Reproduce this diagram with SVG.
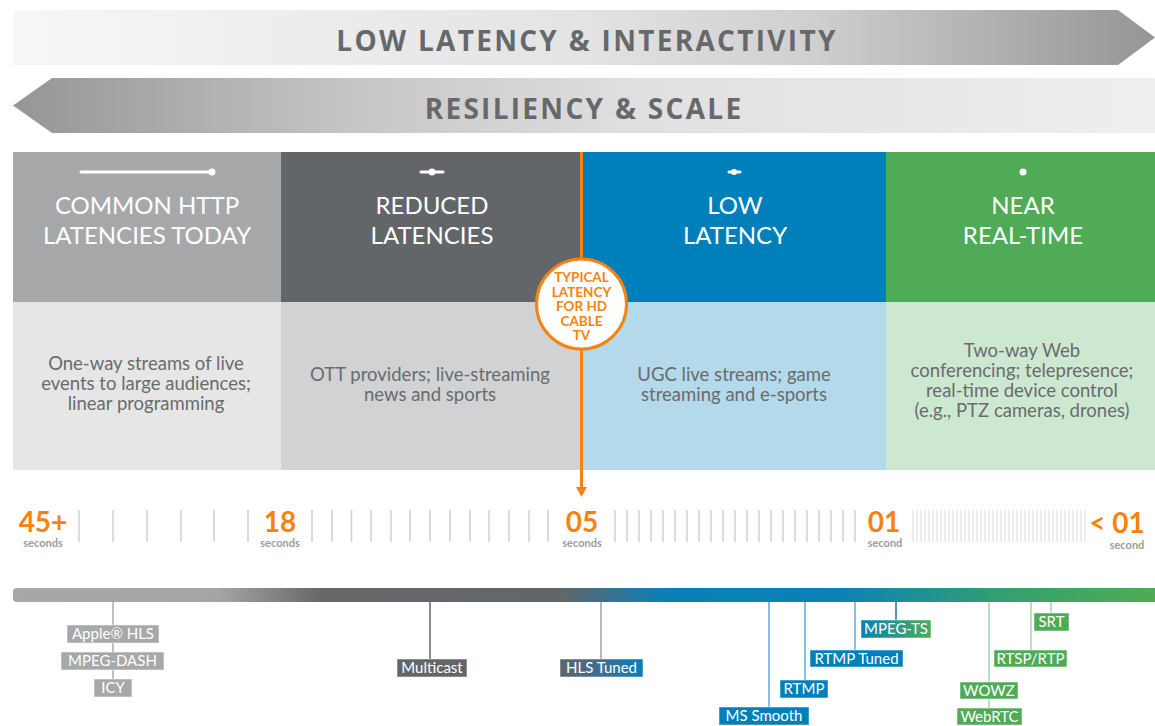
<svg xmlns="http://www.w3.org/2000/svg" width="1155" height="726" viewBox="0 0 1155 726">
<defs>
<linearGradient id="gTop" x1="13" y1="0" x2="1155" y2="0" gradientUnits="userSpaceOnUse">
<stop offset="0" stop-color="#f7f7f7"/><stop offset="0.5" stop-color="#e3e3e3"/><stop offset="0.7" stop-color="#cfcfcf"/><stop offset="1" stop-color="#959595"/>
</linearGradient>
<linearGradient id="gBot" x1="13" y1="0" x2="1155" y2="0" gradientUnits="userSpaceOnUse">
<stop offset="0" stop-color="#959595"/><stop offset="0.3" stop-color="#c6c6c6"/><stop offset="0.55" stop-color="#e0e0e0"/><stop offset="1" stop-color="#efefef"/>
</linearGradient>
<linearGradient id="gBar" x1="13" y1="0" x2="1155" y2="0" gradientUnits="userSpaceOnUse">
<stop offset="0" stop-color="#a7a8aa"/><stop offset="0.18" stop-color="#a4a5a7"/><stop offset="0.27" stop-color="#656769"/><stop offset="0.48" stop-color="#636669"/><stop offset="0.57" stop-color="#0a80b8"/><stop offset="0.72" stop-color="#0a82b6"/><stop offset="0.87" stop-color="#34a070"/><stop offset="1" stop-color="#4fab55"/>
</linearGradient>
<linearGradient id="gHls" x1="0" y1="0" x2="1" y2="0">
<stop offset="0" stop-color="#5e656b"/><stop offset="0.45" stop-color="#3f6f8b"/><stop offset="1" stop-color="#0580bb"/>
</linearGradient>
<linearGradient id="gTs" x1="0" y1="0" x2="1" y2="0">
<stop offset="0" stop-color="#0a80b8"/><stop offset="1" stop-color="#4fab55"/>
</linearGradient>
<style>
.band{font-family:"Open Sans","DejaVu Sans",sans-serif;font-weight:700;font-size:28px;letter-spacing:2.3px;fill:#67686b;text-anchor:middle}
.hd{font-family:Lato,"Open Sans",sans-serif;font-size:24px;fill:#ffffff;text-anchor:middle}
.ds{font-family:Lato,"Open Sans",sans-serif;font-size:18.5px;fill:#6a6b6d;text-anchor:middle}
.cb{font-family:Lato,"Open Sans",sans-serif;font-weight:700;font-size:13.5px;fill:#f7820f;text-anchor:middle}
.num{font-family:Lato,"Open Sans",sans-serif;font-weight:700;font-size:28px;fill:#f7820f;text-anchor:middle}
.unit{font-family:Lato,"Open Sans",sans-serif;font-weight:700;font-size:11px;fill:#9c9c9c;text-anchor:middle}
.tag{font-family:Lato,"Open Sans",sans-serif;font-size:15px;fill:#ffffff;text-anchor:middle}
.box{stroke:#ffffff;stroke-opacity:0.5;stroke-width:1}
.icon{stroke:#ffffff;stroke-width:3;stroke-linecap:round;fill:none}
</style>
</defs>
<rect width="1155" height="726" fill="#ffffff"/>

<g id="band-latency">
<polygon points="13,10 1118,10 1155,37.5 1118,65 13,65" fill="url(#gTop)"/>
<text class="band" x="587" y="51">LOW LATENCY &amp; INTERACTIVITY</text>
</g>
<g id="band-resiliency">
<polygon points="52,78 1155,78 1155,133 52,133 13,105.5" fill="url(#gBot)"/>
<text class="band" x="584" y="119">RESILIENCY &amp; SCALE</text>
</g>

<g id="col-common-http">
<rect x="13" y="152" width="268" height="150" fill="#a7a8aa"/>
<rect x="13" y="302" width="268" height="168" fill="#e6e6e7"/>
<line class="icon" x1="81" y1="172" x2="211" y2="172"/>
<circle cx="212" cy="172" r="3.5" fill="#ffffff"/>
<text class="hd" x="147" y="214">COMMON HTTP</text>
<text class="hd" x="147" y="244">LATENCIES TODAY</text>
<text class="ds" x="146" y="370">One-way streams of live</text>
<text class="ds" x="146" y="390">events to large audiences;</text>
<text class="ds" x="146" y="410">linear programming</text>
</g>
<g id="col-reduced">
<rect x="281" y="152" width="301" height="150" fill="#636669"/>
<rect x="281" y="302" width="301" height="168" fill="#d1d2d4"/>
<line class="icon" x1="421" y1="172" x2="443" y2="172"/>
<circle cx="432" cy="172" r="3.5" fill="#ffffff"/>
<text class="hd" x="432" y="214">REDUCED</text>
<text class="hd" x="432" y="244">LATENCIES</text>
<text class="ds" x="430" y="381">OTT providers; live-streaming</text>
<text class="ds" x="430" y="401">news and sports</text>
</g>
<g id="col-low">
<rect x="582" y="152" width="304" height="150" fill="#0080bb"/>
<rect x="582" y="302" width="304" height="168" fill="#b3d9eb"/>
<line class="icon" x1="729" y1="172" x2="740" y2="172"/>
<circle cx="734" cy="172" r="3" fill="#ffffff"/>
<text class="hd" x="735" y="214">LOW</text>
<text class="hd" x="735" y="244">LATENCY</text>
<text class="ds" x="734" y="381">UGC live streams; game</text>
<text class="ds" x="734" y="401">streaming and e-sports</text>
</g>
<g id="col-near-real-time">
<rect x="886" y="152" width="269" height="150" fill="#4fab55"/>
<rect x="886" y="302" width="269" height="168" fill="#cde8d0"/>
<circle cx="1023" cy="172" r="3.5" fill="#ffffff"/>
<text class="hd" x="1023" y="214">NEAR</text>
<text class="hd" x="1023" y="244">REAL-TIME</text>
<text class="ds" x="1022" y="357">Two-way Web</text>
<text class="ds" x="1022" y="377">conferencing; telepresence;</text>
<text class="ds" x="1022" y="397">real-time device control</text>
<text class="ds" x="1022" y="417">(e.g., PTZ cameras, drones)</text>
</g>

<g id="cable-tv-marker">
<line x1="581.5" y1="152" x2="581.5" y2="489" stroke="#f7820f" stroke-width="3"/>
<polygon points="576,487 587,487 581.5,497" fill="#f7820f"/>
<circle cx="581.5" cy="304" r="45" fill="#ffffff" stroke="#f7820f" stroke-width="3"/>
<text class="cb" x="581.5" y="282">TYPICAL</text>
<text class="cb" x="581.5" y="297">LATENCY</text>
<text class="cb" x="581.5" y="311">FOR HD</text>
<text class="cb" x="581.5" y="326">CABLE</text>
<text class="cb" x="581.5" y="340">TV</text>
</g>

<g id="timeline">
<path d="M79 510V542M113 510V542M147 510V542M181 510V542M214 510V542M248 510V542M312 510V542M332 510V542M351.5 510V542M371 510V542M391 510V542M410 510V542M430 510V542M450 510V542M470 510V542M489 510V542M509 510V542M529 510V542M548 510V542M615 510V542M627 510V542M639 510V542M651 510V542M663 510V542M675 510V542M687 510V542M699 510V542M711 510V542M723 510V542M735 510V542M747 510V542M759 510V542M771 510V542M783 510V542M795 510V542M807 510V542M819 510V542M831 510V542M843 510V542M855 510V542" stroke="#cfcfcf" stroke-width="1.5" fill="none"/>
<path d="M913 510V542M917 510V542M921 510V542M925 510V542M929 510V542M933 510V542M937 510V542M941 510V542M945 510V542M949 510V542M953 510V542M957 510V542M961 510V542M965 510V542M969 510V542M973 510V542M977 510V542M981 510V542M985 510V542M989 510V542M993 510V542M997 510V542M1001 510V542M1005 510V542M1009 510V542M1013 510V542M1017 510V542M1021 510V542M1025 510V542M1029 510V542M1033 510V542M1037 510V542M1041 510V542M1045 510V542M1049 510V542M1053 510V542M1057 510V542M1061 510V542M1065 510V542M1069 510V542M1073 510V542M1077 510V542M1081 510V542M1085 510V542" stroke="#dadada" stroke-width="1" fill="none"/>
<text class="num" x="43" y="532">45+</text>
<text class="unit" x="43" y="547">seconds</text>
<text class="num" x="280" y="532">18</text>
<text class="unit" x="280" y="547">seconds</text>
<text class="num" x="582" y="532">05</text>
<text class="unit" x="582" y="547">seconds</text>
<text class="num" x="884" y="532">01</text>
<text class="unit" x="885" y="547">second</text>
<text class="num" x="1117" y="533">&lt; 01</text>
<text class="unit" x="1127" y="549">second</text>
</g>

<g id="protocol-bar">
<path d="M17 588H1155V602H17A4 4 0 0 1 13 598V592A4 4 0 0 1 17 588Z" fill="url(#gBar)"/>
</g>

<g id="connectors" fill="none" stroke-width="1.5">
<line x1="113" y1="602" x2="113" y2="679" stroke="#a7a8aa"/>
<line x1="430" y1="602" x2="430" y2="659" stroke="#636669"/>
<line x1="601" y1="602" x2="601" y2="659" stroke="#a0a0a0"/>
<line x1="769" y1="602" x2="769" y2="707" stroke="#5aaedb"/>
<line x1="805" y1="602" x2="805" y2="680" stroke="#5aaedb"/>
<line x1="855" y1="602" x2="855" y2="650" stroke="#5aaedb"/>
<line x1="896" y1="602" x2="896" y2="620" stroke="#1b6f96"/>
<line x1="989" y1="602" x2="989" y2="708" stroke="#a5d6a7"/>
<line x1="1031" y1="602" x2="1031" y2="650" stroke="#a5d6a7"/>
<line x1="1051" y1="602" x2="1051" y2="613" stroke="#a5d6a7"/>
</g>

<g id="tag-apple-hls"><rect class="box" x="67" y="625" width="92" height="18" fill="#a7a8aa"/><text class="tag" x="113" y="639">Apple® HLS</text></g>
<g id="tag-mpeg-dash"><rect class="box" x="61" y="652" width="103" height="18" fill="#a7a8aa"/><text class="tag" x="112.5" y="666">MPEG-DASH</text></g>
<g id="tag-icy"><rect class="box" x="94" y="679" width="38" height="18" fill="#a7a8aa"/><text class="tag" x="113" y="693">ICY</text></g>
<g id="tag-multicast"><rect class="box" x="397" y="659" width="70" height="18" fill="#636669"/><text class="tag" x="432" y="673">Multicast</text></g>
<g id="tag-hls-tuned"><rect class="box" x="560" y="659" width="83" height="18" fill="url(#gHls)"/><text class="tag" x="601.5" y="673">HLS Tuned</text></g>
<g id="tag-ms-smooth"><rect class="box" x="719" y="707" width="90" height="18" fill="#0080bb"/><text class="tag" x="764" y="721">MS Smooth</text></g>
<g id="tag-rtmp"><rect class="box" x="780" y="680" width="48" height="18" fill="#0080bb"/><text class="tag" x="804" y="694">RTMP</text></g>
<g id="tag-rtmp-tuned"><rect class="box" x="810" y="650" width="93" height="17" fill="#0080bb"/><text class="tag" x="856.5" y="664">RTMP Tuned</text></g>
<g id="tag-mpeg-ts"><rect class="box" x="861" y="620" width="70" height="18" fill="url(#gTs)"/><text class="tag" x="896" y="634">MPEG-TS</text></g>
<g id="tag-wowz"><rect class="box" x="960" y="682" width="58" height="17" fill="#4fab55"/><text class="tag" x="989" y="696">WOWZ</text></g>
<g id="tag-webrtc"><rect class="box" x="957" y="708" width="65" height="17" fill="#4fab55"/><text class="tag" x="989.5" y="722">WebRTC</text></g>
<g id="tag-rtsp-rtp"><rect class="box" x="994" y="650" width="73" height="17" fill="#4fab55"/><text class="tag" x="1030.5" y="664">RTSP/RTP</text></g>
<g id="tag-srt"><rect class="box" x="1034" y="613" width="35" height="18" fill="#4fab55"/><text class="tag" x="1051.5" y="627">SRT</text></g>
</svg>
